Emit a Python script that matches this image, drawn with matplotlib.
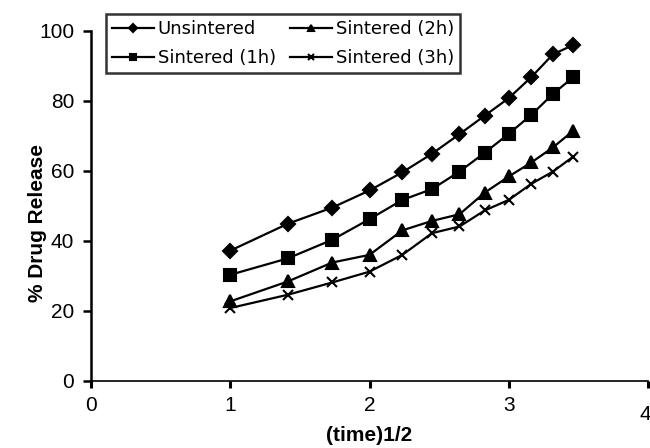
import numpy as np
import matplotlib
matplotlib.use("Agg")
import matplotlib.pyplot as plt
import matplotlib.transforms as mtransforms

plt.rcParams['font.family'] = ['Liberation Sans', 'DejaVu Sans']

# square root of sampling time (hours 1..12)
sqrt_time = [1.000, 1.414, 1.732, 2.000, 2.236, 2.449, 2.646, 2.828, 3.000, 3.162, 3.317, 3.464]

unsintered = [37.2, 44.9, 49.5, 54.4, 59.6, 64.9, 70.5, 75.8, 80.8, 86.8, 93.3, 96.0]
sintered_1h = [30.3, 35.0, 40.3, 46.2, 51.7, 54.8, 59.8, 65.2, 70.6, 76.0, 82.0, 86.8]
sintered_2h = [22.7, 28.4, 33.8, 36.0, 43.0, 45.7, 47.6, 53.8, 58.4, 62.4, 66.7, 71.5]
sintered_3h = [20.8, 24.6, 28.1, 31.2, 36.0, 42.2, 44.1, 48.7, 51.7, 56.3, 59.8, 64.1]

labels = ["Unsintered", "Sintered (1h)", "Sintered (2h)", "Sintered (3h)"]
series = [unsintered, sintered_1h, sintered_2h, sintered_3h]
markers = ["D", "s", "^", "x"]
msizes = [7, 8, 8, 7]

x_ticks = [0, 1, 2, 3, 4]
y_ticks = [0, 20, 40, 60, 80, 100]

fig = plt.figure(figsize=(6.5, 4.48), dpi=100)
ax = fig.add_axes([0.14, 0.150, 0.857, 0.781])

handles = []
for ys, lab, m, ms in zip(series, labels, markers, msizes):
    h, = ax.plot(sqrt_time, ys, color="black", lw=1.6, marker=m, ms=ms,
                 mew=1.5, label=lab)
    handles.append(h)

ax.set_xlim(0, 4)
ax.set_ylim(0, 100)
ax.set_xticks(x_ticks)
ax.set_yticks(y_ticks)
for s in ["top", "right"]:
    ax.spines[s].set_visible(False)
ax.spines["left"].set_linewidth(1.8)
ax.spines["bottom"].set_linewidth(1.2)
ax.tick_params(axis="both", direction="out", width=1.8, length=6,
               labelsize=15, pad=6)
ax.tick_params(axis="x", width=2.2, length=5)

# last x tick label sits at the right edge, slightly lower
last = ax.get_xticklabels()[-1]
last.set_horizontalalignment("right")
last.set_transform(last.get_transform() +
                   mtransforms.ScaledTranslation(0.03, -0.09, fig.dpi_scale_trans))

ax.set_xlabel("(time)1/2", fontsize=15, fontweight="bold")
ax.xaxis.set_label_coords(0.5, -0.13)
ax.set_ylabel("% Drug Release", fontsize=15, fontweight="bold")
ax.yaxis.set_label_coords(-0.079, 0.45)

leg = fig.legend(handles=handles, ncol=2, loc="upper left",
                 bbox_to_anchor=(106 / 650, 1 - 14 / 448),
                 prop={"family": "DejaVu Sans", "size": 13},
                 frameon=True, fancybox=False,
                 edgecolor="black", handlelength=2.3, handletextpad=0.22,
                 columnspacing=0.8, labelspacing=0.6, borderpad=0.35,
                 markerscale=0.6, borderaxespad=0)
leg.get_frame().set_linewidth(1.8)

fig.savefig("out.png", dpi=100)
